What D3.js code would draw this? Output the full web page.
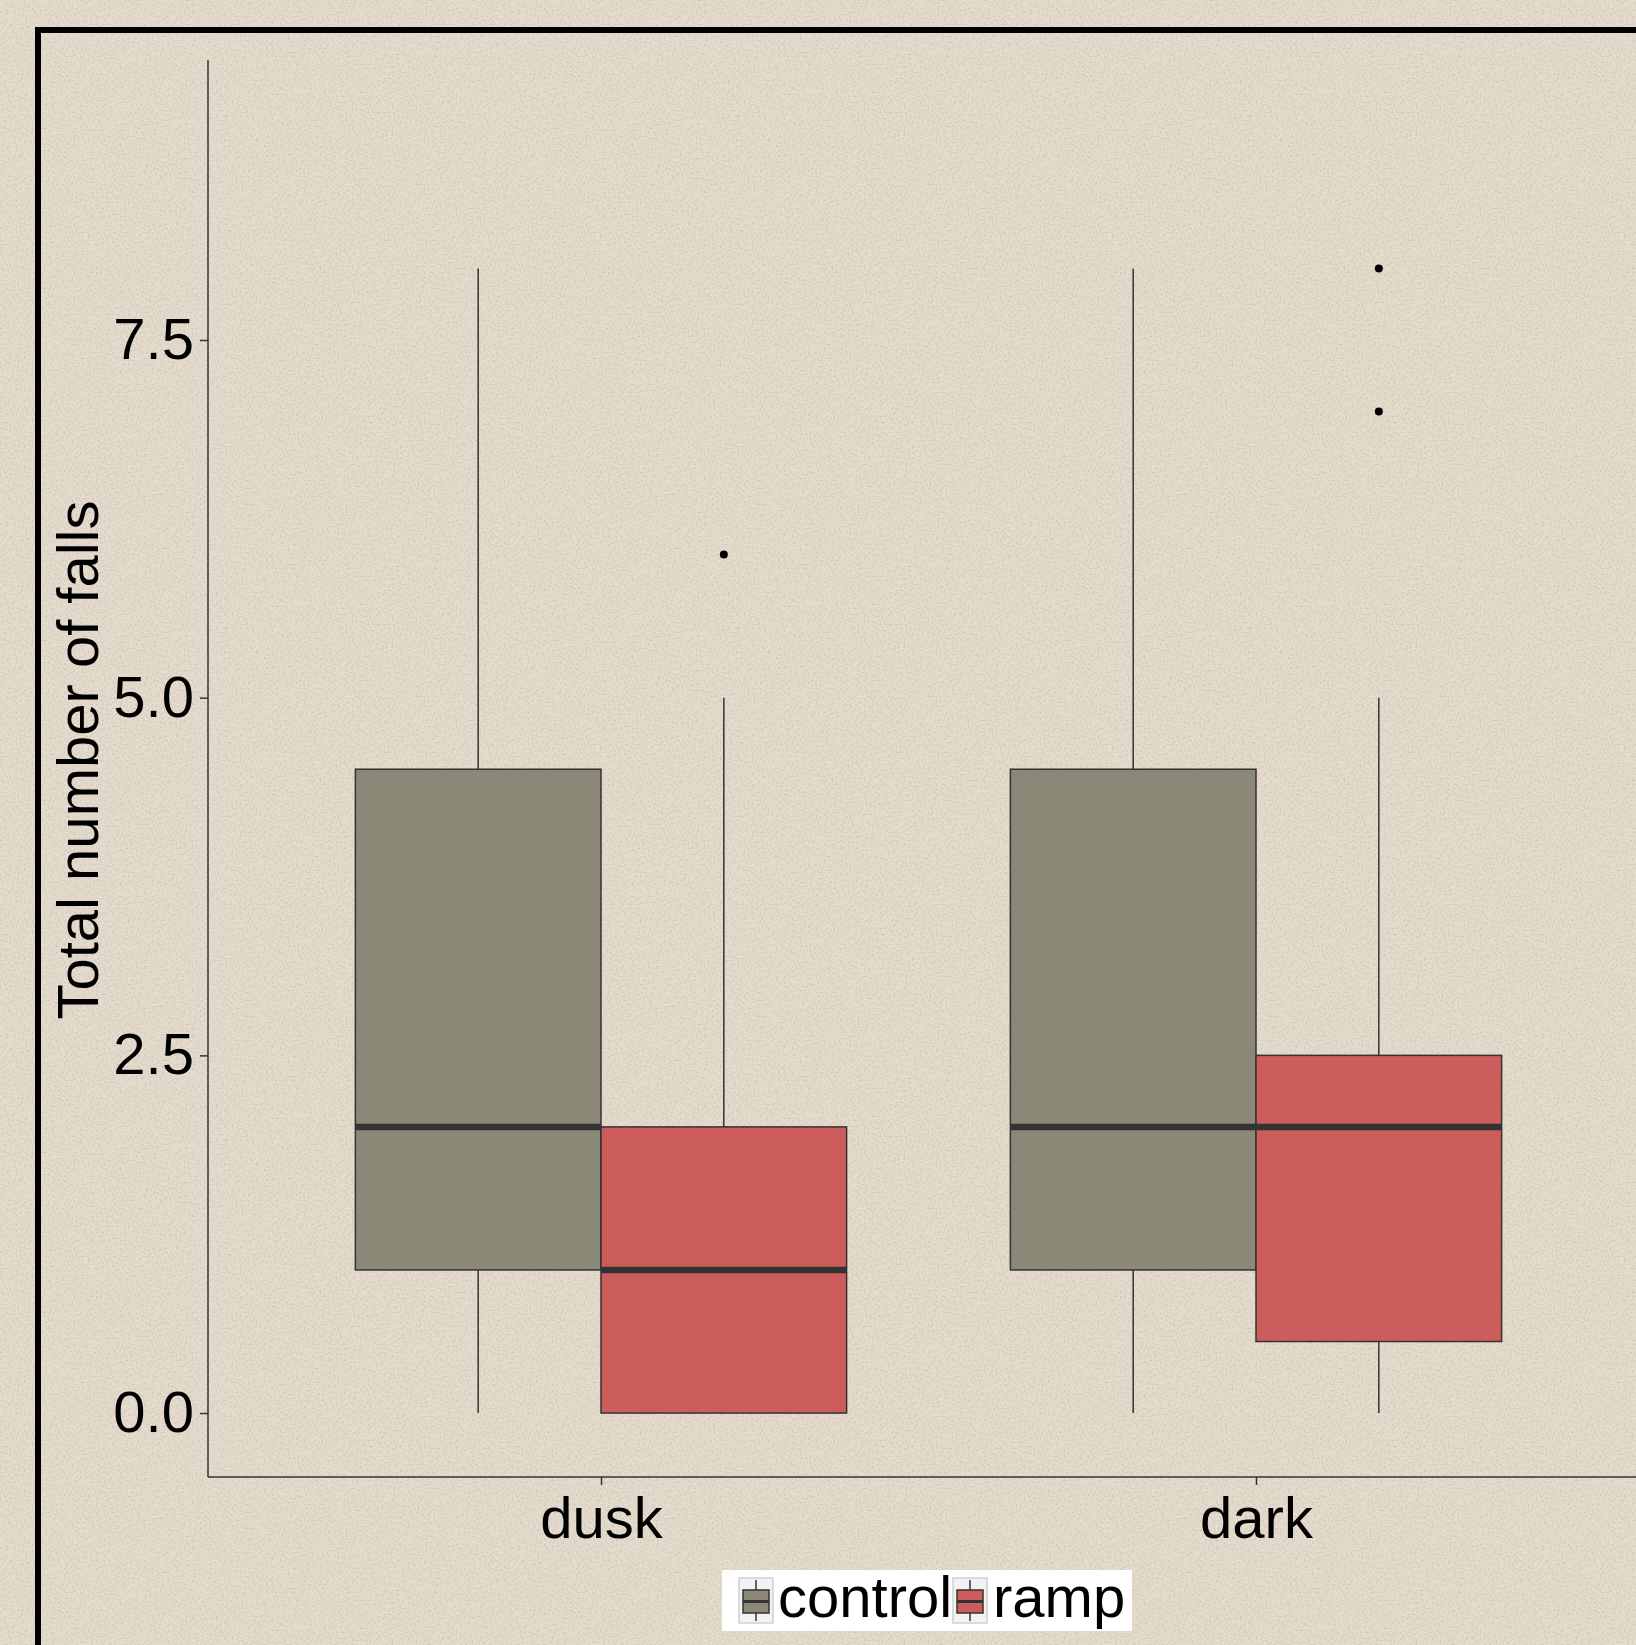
<!DOCTYPE html>
<html lang="en">
<head>
  <meta charset="UTF-8">
  <title></title>
  <style>
    html, body {
      margin: 0;
      overflow: hidden;
      width: 100%;
      height: 100%;
    }
    svg {
      position: absolute;
      top: 0;
      left: 0;
    }
    text {
      font-family: "Liberation Sans", Arial, sans-serif;
    }
  </style>
</head>
<body>
  <svg width="1636" height="1645"></svg>
</body>
<script src="https://d3js.org/d3.v7.min.js"></script>
<script type="text/javascript">
  // data
  const periods = ['dusk', 'dark']
  const groups = ['control', 'ramp']
  const colors = ['#8B8878', '#CD5C5C']
  const yTicks = [0, 2.5, 5, 7.5]
  // [low whisker, q1, median, q3, high whisker] per period, per group
  const controlStats = [[0, 1, 2, 4.5, 8], [0, 1, 2, 4.5, 8]]
  const rampStats = [[0, 0, 1, 2, 5], [0, 0.5, 2, 2.5, 5]]
  const controlOutliers = [[], []]
  const rampOutliers = [[6], [7, 8]]

  const svg = d3.select('svg')

  // textured paper background
  const defs = svg.append('defs')
  const filt = defs.append('filter').attr('id', 'paper')
    .attr('x', 0).attr('y', 0).attr('width', '100%').attr('height', '100%')
  filt.append('feTurbulence')
    .attr('type', 'fractalNoise')
    .attr('baseFrequency', 0.5)
    .attr('numOctaves', 2)
    .attr('seed', 3)
  filt.append('feColorMatrix')
    .attr('type', 'matrix')
    .attr('values', '0 0 0 0 0.42  0 0 0 0 0.38  0 0 0 0 0.32  0 0 0 -2.6 1.45')
  svg.append('rect')
    .attr('width', 1636).attr('height', 1645)
    .attr('fill', '#E5DCCD')
  svg.append('rect')
    .attr('width', 1636).attr('height', 1645)
    .attr('filter', 'url(#paper)')
    .attr('opacity', 0.4)

  // outer black frame (runs off the right and bottom)
  svg.append('rect')
    .attr('x', 38).attr('y', 30)
    .attr('width', 1700).attr('height', 1700)
    .attr('fill', 'none')
    .attr('stroke', '#000')
    .attr('stroke-width', 6)

  const plotLeft = 208, plotTop = 60, plotBottom = 1477

  const x = d3.scaleLinear().domain([0.4, 2.6]).range([plotLeft, 1649])
  const y = d3.scaleLinear().domain([-0.447, 9.457]).range([plotBottom, plotTop])
  const dodge = 0.75 / 2

  // axes
  const yAxis = svg.append('g')
    .attr('transform', `translate(${plotLeft},0)`)
    .call(d3.axisLeft(y).tickValues(yTicks).tickFormat(d3.format('.1f')).tickSize(8).tickPadding(6))
  const xAxis = svg.append('g')
    .attr('transform', `translate(0,${plotBottom})`)
    .call(d3.axisBottom(x).tickValues([1, 2]).tickFormat((d, i) => periods[i]).tickSize(8).tickPadding(12))
  ;[yAxis, xAxis].forEach(a => {
    a.select('.domain').attr('stroke', '#333').attr('stroke-width', 1.5)
    a.selectAll('.tick line').attr('stroke', '#333').attr('stroke-width', 1.5)
    a.selectAll('.tick text')
      .attr('fill', '#000')
      .style('font-size', '58px')
      .style('font-family', '"Liberation Sans", Arial, sans-serif')
  })
  yAxis.select('.domain').attr('d', `M0,${plotTop}V${plotBottom}`)
  xAxis.select('.domain').attr('d', `M${plotLeft},0H1640`)

  // y label
  svg.append('text')
    .attr('transform', 'translate(98,760) rotate(-90)')
    .attr('text-anchor', 'middle')
    .style('font-size', '58px')
    .text('Total number of falls')

  // boxes
  const boxes = []
  periods.forEach((p, i) => {
    boxes.push({ pos: i + 1 - dodge / 2, s: controlStats[i], out: controlOutliers[i], color: colors[0] })
    boxes.push({ pos: i + 1 + dodge / 2, s: rampStats[i], out: rampOutliers[i], color: colors[1] })
  })
  const halfW = x(1 + dodge / 2) - x(1)

  const bg = svg.selectAll('g.box').data(boxes).enter().append('g').attr('class', 'box')
  bg.append('line')
    .attr('x1', d => x(d.pos)).attr('x2', d => x(d.pos))
    .attr('y1', d => y(d.s[0])).attr('y2', d => y(d.s[1]))
    .attr('stroke', '#333').attr('stroke-width', 1.5)
  bg.append('line')
    .attr('x1', d => x(d.pos)).attr('x2', d => x(d.pos))
    .attr('y1', d => y(d.s[3])).attr('y2', d => y(d.s[4]))
    .attr('stroke', '#333').attr('stroke-width', 1.5)
  bg.append('rect')
    .attr('x', d => x(d.pos) - halfW)
    .attr('width', halfW * 2)
    .attr('y', d => y(d.s[3]))
    .attr('height', d => y(d.s[1]) - y(d.s[3]))
    .attr('fill', d => d.color)
    .attr('stroke', '#333').attr('stroke-width', 1.5)
  bg.append('line')
    .attr('x1', d => x(d.pos) - halfW).attr('x2', d => x(d.pos) + halfW)
    .attr('y1', d => y(d.s[2])).attr('y2', d => y(d.s[2]))
    .attr('stroke', '#333').attr('stroke-width', 6.5)
  bg.selectAll('circle').data(d => d.out.map(v => ({ pos: d.pos, v: v }))).enter()
    .append('circle')
    .attr('cx', d => x(d.pos)).attr('cy', d => y(d.v))
    .attr('r', 4).attr('fill', '#000')

  // legend
  const leg = svg.append('g')
  leg.append('rect')
    .attr('x', 722).attr('y', 1570).attr('width', 410).attr('height', 61)
    .attr('fill', '#fff')
  const keyX = [739, 953]
  const textX = [778, 993]
  groups.forEach((g, i) => {
    const k = leg.append('g').attr('transform', `translate(${keyX[i]},1578)`)
    k.append('rect').attr('width', 34).attr('height', 45)
      .attr('fill', '#f2f2f2').attr('stroke', '#d0d0d0').attr('stroke-width', 1.5)
    k.append('line').attr('x1', 17).attr('x2', 17).attr('y1', 2).attr('y2', 43)
      .attr('stroke', '#333').attr('stroke-width', 1.5)
    k.append('rect').attr('x', 4).attr('y', 12).attr('width', 26).attr('height', 23)
      .attr('fill', colors[i]).attr('stroke', '#333').attr('stroke-width', 1.5)
    k.append('line').attr('x1', 4).attr('x2', 30).attr('y1', 23.5).attr('y2', 23.5)
      .attr('stroke', '#333').attr('stroke-width', 3)
    leg.append('text')
      .attr('x', textX[i]).attr('y', 1617)
      .style('font-size', '58px')
      .text(g)
  })
</script>
</html>
